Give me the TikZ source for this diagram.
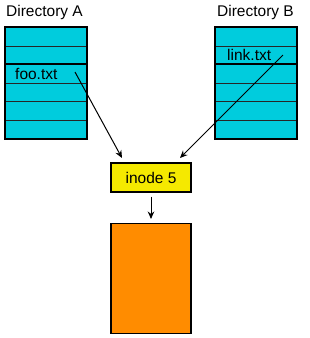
\documentclass[tikz,border=0pt]{standalone}
\usepackage{fontspec}
\setmainfont{Liberation Sans}
\usetikzlibrary{arrows.meta}
\definecolor{dircyan}{RGB}{0,204,221}
\definecolor{inodeyellow}{RGB}{245,233,0}
\definecolor{dataorange}{RGB}{255,140,0}
\begin{document}
\begin{tikzpicture}[x=1pt,y=-1pt,
  row/.style={draw=black!85, fill=dircyan, line width=1pt, minimum width=81pt,
    minimum height=18.5pt, inner sep=0pt, anchor=north west},
  lbl/.style={font=\fontsize{15.5}{18}\selectfont, inner sep=0pt},
  outline/.style={draw=black, line width=1.3pt},
  arr/.style={line width=1pt, -{Stealth[length=7.5pt,width=6.5pt]}}]
\useasboundingbox (0,0) rectangle (309,338);
% Directory A
\foreach \i in {0,...,5} \node[row] (a\i) at (5,{27+18.5*\i}) {};
\draw[outline] (a0.north west) rectangle (a5.south east);
\draw[outline] (a2.north west) -- (a2.north east);
\node[lbl, anchor=base west] (dirA) at (6,16) {Directory A};
\node[lbl, anchor=base west] (foo) at (15,79) {foo.txt};
% Directory B
\foreach \i in {0,...,5} \node[row] (b\i) at (215,{27+18.5*\i}) {};
\draw[outline] (b0.north west) rectangle (b5.south east);
\draw[outline] (b2.north west) -- (b2.north east);
\node[lbl, anchor=base west] (dirB) at (217,16) {Directory B};
\node[lbl, anchor=base west] (link) at (227,60) {link.txt};
% inode
\node[draw=black, line width=1.3pt, fill=inodeyellow, minimum width=80pt, minimum height=29pt,
  inner sep=0pt, lbl] (inode) at (151,177.5) {inode 5};
% data block
\node[draw=black, line width=1.3pt, fill=dataorange, minimum width=80pt, minimum height=110pt,
  inner sep=0pt, anchor=north] (data) at (151,223) {};
% arrows
\coordinate (fa) at (75,72);
\coordinate (ta) at (122,158);
\coordinate (fb) at (283,55);
\coordinate (tb) at (180,158);
\draw[arr] (fa) -- (ta);
\draw[arr] (fb) -- (tb);
\draw[arr] ([yshift=-4pt]inode.south) -- ([yshift=4pt]data.north);
\end{tikzpicture}
\end{document}
